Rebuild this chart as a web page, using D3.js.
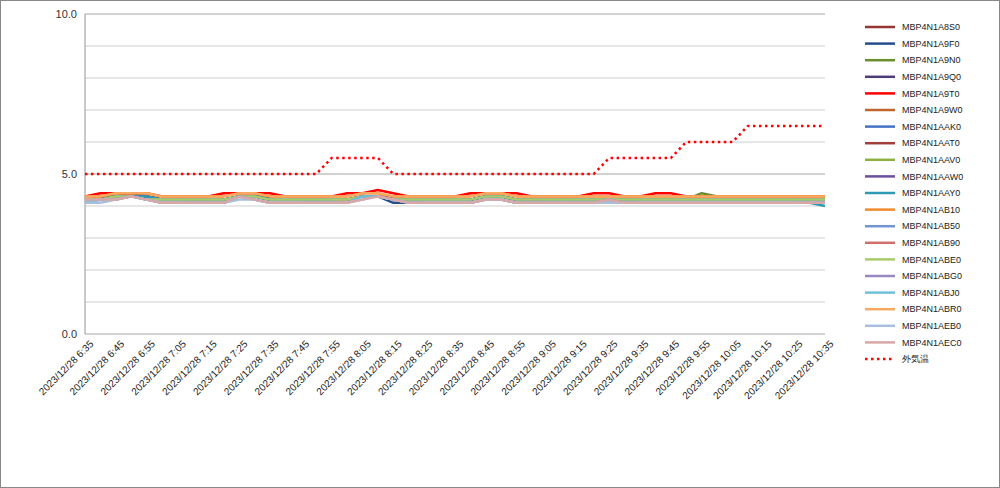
<!DOCTYPE html>
<html><head><meta charset="utf-8">
<script src="https://cdn.jsdelivr.net/npm/d3@7"></script>
<style>body{margin:0;background:#fff;font-family:"Liberation Sans",Arial,sans-serif}</style>
</head><body><svg id="c" width="1000" height="488"></svg>
<script>
const times=[];for(let m=6*60+35;m<=10*60+35;m+=5)times.push(`2023/12/28 ${Math.floor(m/60)}:${String(m%60).padStart(2,"0")}`);
const tickLabels=times.filter((d,i)=>i%2===0);
const yTicks=[0,5,10];
const names=["MBP4N1A8S0","MBP4N1A9F0","MBP4N1A9N0","MBP4N1A9Q0","MBP4N1A9T0","MBP4N1A9W0","MBP4N1AAK0","MBP4N1AAT0","MBP4N1AAV0","MBP4N1AAW0","MBP4N1AAY0","MBP4N1AB10","MBP4N1AB50","MBP4N1AB90","MBP4N1ABE0","MBP4N1ABG0","MBP4N1ABJ0","MBP4N1ABR0","MBP4N1AEB0","MBP4N1AEC0"];
const colors=["#943634","#254E8C","#6A8E2E","#4F3D7A","#FF0000","#C0652C","#4472C4","#A0403C","#8DB040","#6B4F9A","#2E9AB5","#F08A2A","#7095D0","#D0706C","#A9CB6C","#9B87C0","#6FC0D8","#F8A860","#A9BEDD","#D9A8A6"];
const s00=[4.2,4.3,4.3,4.4,4.3,4.2,4.2,4.2,4.2,4.2,4.3,4.3,4.3,4.2,4.2,4.2,4.2,4.2,4.3,4.3,4.3,4.2,4.2,4.2,4.2,4.2,4.3,4.3,4.2,4.2,4.2,4.2,4.2,4.2,4.2,4.2,4.2,4.2,4.2,4.2,4.2,4.2,4.2,4.2,4.2,4.2,4.2,4.2,4.2];
const s01=[4.2,4.2,4.3,4.4,4.3,4.2,4.2,4.2,4.2,4.1,4.3,4.3,4.3,4.2,4.2,4.2,4.2,4.2,4.3,4.3,4.1,4.1,4.2,4.2,4.2,4.2,4.3,4.3,4.2,4.2,4.2,4.2,4.2,4.2,4.2,4.2,4.2,4.2,4.2,4.2,4.2,4.2,4.2,4.2,4.2,4.2,4.2,4.2,4.1];
const s02=[4.2,4.3,4.3,4.3,4.3,4.2,4.2,4.2,4.2,4.2,4.3,4.3,4.3,4.2,4.2,4.2,4.2,4.2,4.3,4.3,4.2,4.2,4.2,4.2,4.2,4.2,4.3,4.3,4.2,4.2,4.2,4.2,4.2,4.2,4.2,4.2,4.2,4.2,4.2,4.2,4.4,4.3,4.3,4.3,4.3,4.3,4.3,4.3,4.3];
const s03=[4.2,4.2,4.3,4.3,4.3,4.2,4.2,4.2,4.2,4.2,4.3,4.3,4.2,4.2,4.2,4.1,4.2,4.2,4.3,4.3,4.2,4.1,4.2,4.2,4.2,4.2,4.3,4.3,4.2,4.2,4.2,4.2,4.2,4.2,4.2,4.1,4.2,4.2,4.2,4.2,4.2,4.2,4.2,4.2,4.2,4.2,4.2,4.2,4.2];
const s04=[4.3,4.4,4.4,4.4,4.4,4.3,4.3,4.3,4.3,4.4,4.4,4.4,4.4,4.3,4.3,4.3,4.3,4.4,4.4,4.5,4.4,4.3,4.3,4.3,4.3,4.4,4.4,4.4,4.4,4.3,4.3,4.3,4.3,4.4,4.4,4.3,4.3,4.4,4.4,4.3,4.3,4.3,4.3,4.3,4.3,4.3,4.3,4.3,4.3];
const s05=[4.2,4.3,4.3,4.3,4.3,4.2,4.2,4.2,4.2,4.2,4.3,4.3,4.2,4.2,4.2,4.2,4.2,4.2,4.3,4.3,4.2,4.2,4.2,4.2,4.2,4.2,4.3,4.3,4.2,4.2,4.2,4.2,4.2,4.2,4.2,4.2,4.2,4.2,4.2,4.2,4.2,4.2,4.2,4.2,4.2,4.2,4.2,4.2,4.2];
const s06=[4.2,4.2,4.3,4.3,4.3,4.2,4.2,4.2,4.2,4.2,4.3,4.3,4.2,4.2,4.2,4.2,4.2,4.2,4.3,4.3,4.2,4.2,4.2,4.2,4.2,4.2,4.3,4.3,4.2,4.2,4.2,4.2,4.2,4.2,4.2,4.2,4.2,4.2,4.2,4.2,4.2,4.2,4.2,4.2,4.2,4.2,4.2,4.2,4.2];
const s07=[4.2,4.2,4.3,4.3,4.3,4.2,4.2,4.2,4.2,4.2,4.3,4.3,4.2,4.2,4.2,4.2,4.1,4.2,4.3,4.3,4.2,4.2,4.2,4.2,4.2,4.2,4.3,4.3,4.2,4.2,4.2,4.2,4.1,4.1,4.2,4.2,4.2,4.2,4.2,4.2,4.2,4.2,4.2,4.2,4.2,4.2,4.2,4.2,4.2];
const s08=[4.2,4.2,4.3,4.3,4.3,4.2,4.2,4.2,4.2,4.2,4.3,4.3,4.2,4.2,4.2,4.2,4.2,4.2,4.3,4.3,4.2,4.2,4.2,4.2,4.2,4.2,4.3,4.3,4.2,4.2,4.2,4.2,4.2,4.2,4.2,4.2,4.2,4.2,4.2,4.2,4.2,4.2,4.2,4.2,4.2,4.2,4.2,4.2,4.2];
const s09=[4.2,4.2,4.3,4.3,4.3,4.2,4.2,4.2,4.2,4.2,4.3,4.3,4.2,4.2,4.2,4.2,4.2,4.2,4.3,4.3,4.2,4.2,4.2,4.2,4.2,4.2,4.3,4.3,4.2,4.2,4.2,4.2,4.2,4.2,4.2,4.2,4.2,4.2,4.2,4.2,4.2,4.2,4.2,4.2,4.2,4.2,4.2,4.2,4.2];
const s10=[4.2,4.2,4.3,4.3,4.3,4.2,4.2,4.1,4.1,4.2,4.3,4.3,4.2,4.2,4.2,4.2,4.2,4.2,4.3,4.3,4.2,4.2,4.2,4.2,4.2,4.2,4.3,4.3,4.2,4.1,4.1,4.2,4.2,4.2,4.2,4.2,4.2,4.2,4.2,4.2,4.2,4.2,4.2,4.2,4.2,4.2,4.2,4.1,4.0];
const s11=[4.3,4.3,4.4,4.4,4.4,4.3,4.3,4.3,4.3,4.3,4.4,4.4,4.3,4.3,4.3,4.3,4.3,4.3,4.4,4.4,4.3,4.3,4.3,4.3,4.3,4.3,4.4,4.4,4.3,4.3,4.3,4.3,4.3,4.3,4.3,4.3,4.3,4.3,4.3,4.3,4.3,4.3,4.3,4.3,4.3,4.3,4.3,4.3,4.3];
const s12=[4.2,4.2,4.3,4.3,4.2,4.2,4.2,4.2,4.2,4.2,4.3,4.3,4.2,4.2,4.2,4.2,4.2,4.2,4.3,4.3,4.2,4.2,4.2,4.2,4.2,4.2,4.3,4.3,4.2,4.2,4.2,4.2,4.2,4.2,4.2,4.2,4.2,4.2,4.2,4.2,4.2,4.2,4.2,4.2,4.2,4.2,4.2,4.2,4.2];
const s13=[4.1,4.2,4.2,4.3,4.2,4.1,4.1,4.1,4.1,4.1,4.3,4.2,4.1,4.1,4.1,4.1,4.1,4.2,4.3,4.3,4.2,4.1,4.1,4.1,4.1,4.1,4.2,4.2,4.1,4.1,4.1,4.1,4.1,4.1,4.1,4.1,4.1,4.1,4.1,4.1,4.1,4.1,4.1,4.1,4.1,4.1,4.1,4.1,4.1];
const s14=[4.2,4.2,4.3,4.3,4.2,4.2,4.2,4.2,4.2,4.2,4.3,4.3,4.2,4.2,4.2,4.2,4.2,4.2,4.3,4.3,4.2,4.2,4.2,4.2,4.2,4.2,4.3,4.3,4.2,4.2,4.2,4.2,4.2,4.2,4.2,4.2,4.2,4.2,4.2,4.2,4.2,4.2,4.2,4.2,4.2,4.2,4.2,4.2,4.2];
const s15=[4.1,4.2,4.2,4.3,4.2,4.1,4.1,4.1,4.1,4.1,4.3,4.2,4.1,4.1,4.1,4.1,4.1,4.1,4.3,4.3,4.2,4.1,4.1,4.1,4.1,4.1,4.2,4.2,4.1,4.1,4.1,4.1,4.1,4.1,4.2,4.1,4.1,4.1,4.1,4.1,4.1,4.1,4.1,4.1,4.1,4.1,4.1,4.1,4.1];
const s16=[4.1,4.2,4.2,4.3,4.2,4.1,4.1,4.1,4.1,4.1,4.3,4.2,4.1,4.1,4.1,4.1,4.1,4.1,4.3,4.3,4.2,4.1,4.1,4.1,4.1,4.1,4.2,4.2,4.1,4.1,4.1,4.1,4.1,4.1,4.1,4.1,4.1,4.1,4.1,4.1,4.1,4.1,4.1,4.1,4.1,4.1,4.1,4.1,4.1];
const s17=[4.3,4.3,4.4,4.4,4.4,4.3,4.3,4.3,4.3,4.3,4.4,4.4,4.3,4.3,4.3,4.3,4.3,4.3,4.4,4.4,4.3,4.3,4.3,4.3,4.3,4.3,4.4,4.4,4.3,4.3,4.3,4.3,4.3,4.3,4.3,4.3,4.3,4.3,4.3,4.3,4.3,4.3,4.3,4.3,4.3,4.3,4.3,4.3,4.3];
const s18=[4.1,4.1,4.2,4.3,4.2,4.1,4.1,4.1,4.1,4.1,4.2,4.2,4.1,4.1,4.1,4.1,4.1,4.1,4.2,4.3,4.2,4.1,4.1,4.1,4.1,4.1,4.2,4.2,4.1,4.1,4.1,4.1,4.1,4.1,4.1,4.1,4.1,4.1,4.1,4.1,4.1,4.1,4.1,4.1,4.1,4.1,4.1,4.1,4.1];
const s19=[4.2,4.2,4.2,4.3,4.2,4.1,4.1,4.1,4.1,4.1,4.3,4.2,4.1,4.1,4.1,4.1,4.1,4.1,4.2,4.3,4.2,4.1,4.1,4.1,4.1,4.1,4.2,4.2,4.1,4.1,4.1,4.1,4.1,4.1,4.2,4.1,4.1,4.1,4.1,4.1,4.1,4.1,4.1,4.1,4.1,4.1,4.1,4.1,4.1];
const outside=[5,5,5,5,5,5,5,5,5,5,5,5,5,5,5,5,5.5,5.5,5.5,5.5,5,5,5,5,5,5,5,5,5,5,5,5,5,5,5.5,5.5,5.5,5.5,5.5,6,6,6,6,6.5,6.5,6.5,6.5,6.5,6.5];
const seriesVals=[s00,s01,s02,s03,s04,s05,s06,s07,s08,s09,s10,s11,s12,s13,s14,s15,s16,s17,s18,s19];

const svg=d3.select("#c");
svg.append("rect").attr("x",0.5).attr("y",0.5).attr("width",999).attr("height",487).attr("fill","#fff").attr("stroke","#888");
const x=d3.scalePoint().domain(times).range([85,825]);
const y=d3.scaleLinear().domain([0,10]).range([334,14]);
const g=svg.append("g");
g.selectAll("line.gr").data(d3.range(1,11)).join("line").attr("x1",85).attr("x2",825)
 .attr("y1",d=>y(d)).attr("y2",d=>y(d)).attr("stroke",d=>d%5===0?"#a6a6a6":"#d0d0d0").attr("stroke-width",1.2);
g.append("line").attr("x1",85).attr("x2",825).attr("y1",y(0)).attr("y2",y(0)).attr("stroke","#a6a6a6").attr("stroke-width",1.2);
g.append("line").attr("x1",85).attr("x2",85).attr("y1",y(0)).attr("y2",y(10)).attr("stroke","#a6a6a6").attr("stroke-width",1.2);
const ya=svg.append("g").attr("transform","translate(85,0)").call(d3.axisLeft(y).tickValues(yTicks).tickFormat(d3.format(".1f")).tickSize(0).tickPadding(8));
ya.select(".domain").remove();ya.selectAll("text").attr("font-size",11).attr("fill","#333");
const xa=svg.append("g").attr("transform",`translate(0,${y(0)})`).call(d3.axisBottom(x).tickValues(tickLabels).tickSize(0));
xa.select(".domain").remove();
xa.selectAll("text").attr("font-size",10).attr("fill","#222").attr("text-anchor","end").attr("transform","translate(4,6) rotate(-45)").attr("dy","0.35em");
const line=d3.line().x((d,i)=>x(times[i])).y(d=>y(d));
seriesVals.forEach((v,k)=>g.append("path").attr("d",line(v)).attr("fill","none").attr("stroke",colors[k]).attr("stroke-width",2.5).attr("stroke-linejoin","round"));
g.append("path").attr("d",line(outside)).attr("fill","none").attr("stroke","#FF0000").attr("stroke-width",2.5).attr("stroke-dasharray","2.5,3.5");
const leg=svg.append("g");
const all=names.concat(["外気温"]);
all.forEach((n,i)=>{const yy=27+i*16.6;
 const l=leg.append("line").attr("x1",865).attr("x2",895).attr("y1",yy).attr("y2",yy).attr("stroke",i<20?colors[i]:"#FF0000").attr("stroke-width",2.5);
 if(i===20)l.attr("stroke-dasharray","2.5,3.5");
 leg.append("text").attr("x",902).attr("y",yy).attr("dy","0.35em").attr("font-size",9).attr("fill","#222").text(n);});
</script></body></html>
